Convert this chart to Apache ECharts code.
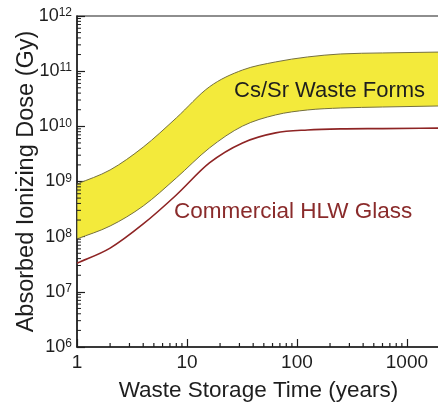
<!DOCTYPE html>
<html><head><meta charset="utf-8">
<script src="https://cdn.jsdelivr.net/npm/echarts@6/dist/echarts.min.js"></script>
<style>html,body{margin:0;padding:0;background:#fff}#c{width:438px;height:402px}</style>
</head><body><div id="c"></div>
<script>
// ---- data ----
const years = [1, 2, 4, 8, 16, 32, 64, 125, 250, 600, 2000];
const csSrUpper = [9.0e8, 1.62e9, 4.2e9, 1.42e10, 5.2e10, 1.05e11, 1.47e11, 1.81e11, 2.05e11, 2.14e11, 2.22e11];
const csSrLower = [9.1e7, 1.56e8, 3.6e8, 1.16e9, 4.05e9, 1.01e10, 1.61e10, 1.98e10, 2.15e10, 2.24e10, 2.34e10];
const hlwGlass = [3.3e7, 6.2e7, 1.7e8, 5.7e8, 2.17e9, 5.0e9, 7.6e9, 8.6e9, 9.0e9, 9.1e9, 9.3e9];
const xTickLabels = ['1', '10', '100', '1000'];
const yTickExponents = ['6', '7', '8', '9', '10', '11', '12'];
const bandLabel = 'Cs/Sr Waste Forms';
const glassLabel = 'Commercial HLW Glass';
const xTitle = 'Waste Storage Time (years)';
const yTitle = 'Absorbed Ionizing Dose (Gy)';

const xMin = 1, xMax = 2000, yMin = 1e6, yMax = 1e12;
const xMinor = [];
[1, 10, 100, 1000].forEach(d => { for (let k = 2; k <= 9; k++) if (k * d < xMax) xMinor.push(k * d); });
const yMinor = [];
[1e6, 1e7, 1e8, 1e9, 1e10, 1e11].forEach(d => { for (let k = 2; k <= 9; k++) yMinor.push(k * d); });

const FONT = 'Liberation Sans, Arial, sans-serif';
const AX = '#1e1e1e';

// monotone cubic (Fritsch-Carlson) segments in screen space
function monoSegs(p) {
  const n = p.length, d = [], m = [];
  for (let i = 0; i < n - 1; i++) d.push((p[i + 1][1] - p[i][1]) / (p[i + 1][0] - p[i][0]));
  m[0] = d[0]; m[n - 1] = d[n - 2];
  for (let i = 1; i < n - 1; i++) m[i] = (d[i - 1] * d[i] <= 0) ? 0 : (d[i - 1] + d[i]) / 2;
  for (let i = 0; i < n - 1; i++) {
    if (d[i] === 0) { m[i] = 0; m[i + 1] = 0; continue; }
    const a = m[i] / d[i], b = m[i + 1] / d[i], s = a * a + b * b;
    if (s > 9) { const t = 3 / Math.sqrt(s); m[i] = t * a * d[i]; m[i + 1] = t * b * d[i]; }
  }
  const segs = [];
  for (let i = 0; i < n - 1; i++) {
    const h = (p[i + 1][0] - p[i][0]) / 3;
    segs.push({ p1: p[i], c1: [p[i][0] + h, p[i][1] + m[i] * h], c2: [p[i + 1][0] - h, p[i + 1][1] - m[i + 1] * h], p2: p[i + 1] });
  }
  return segs;
}
const fwd = segs => segs.map(s => 'C' + s.c1.join(' ') + ' ' + s.c2.join(' ') + ' ' + s.p2.join(' ')).join('');
const bwd = segs => segs.slice().reverse().map(s => 'C' + s.c2.join(' ') + ' ' + s.c1.join(' ') + ' ' + s.p1.join(' ')).join('');

const chart = echarts.init(document.getElementById('c'), null, { renderer: 'canvas' });
chart.setOption({
  animation: false,
  backgroundColor: '#fff',
  grid: { left: 77, top: 16, width: 363, height: 331, containLabel: false, outerBoundsMode: 'none', show: true, borderColor: AX, borderWidth: 1.2, backgroundColor: 'transparent' },
  xAxis: {
    type: 'log', logBase: 10, min: xMin, max: xMax,
    axisLine: { show: true, lineStyle: { color: AX, width: 1.5 } },
    axisTick: { show: true, inside: true, length: 8, lineStyle: { color: AX, width: 1.2 } },
    splitLine: { show: false },
    axisLabel: {
      showMaxLabel: false, margin: 6, color: '#1e1e1e', fontSize: 19, fontFamily: FONT,
      formatter: v => { const e = Math.round(Math.log10(v)); return xTickLabels[e] || ''; }
    },
    name: xTitle, nameLocation: 'middle', nameGap: 32, nameMoveOverlap: false,
    nameTextStyle: { fontSize: 22.5, fontFamily: FONT, color: '#1e1e1e' }
  },
  yAxis: {
    type: 'log', logBase: 10, min: yMin, max: yMax,
    axisLine: { show: true, lineStyle: { color: AX, width: 1.5 } },
    axisTick: { show: true, inside: true, length: 8, lineStyle: { color: AX, width: 1.2 } },
    splitLine: { show: false },
    axisLabel: {
      margin: 5,
      formatter: v => { const e = Math.round(Math.log10(v)); return '{b|10}{s|' + yTickExponents[e - 6] + '}'; },
      rich: {
        b: { fontSize: 18, fontFamily: FONT, color: '#1e1e1e' },
        s: { fontSize: 12, fontFamily: FONT, color: '#1e1e1e', verticalAlign: 'top', padding: [0, 0, 5, 0] }
      }
    },
    name: yTitle, nameLocation: 'middle', nameGap: 38, nameMoveOverlap: false,
    nameTextStyle: { fontSize: 23.5, fontFamily: FONT, color: '#1e1e1e' }
  },
  graphic: [
    { type: 'text', left: 234, top: 80, style: { text: bandLabel, font: '22px ' + FONT, fill: '#1e1e1e' }, z: 10 },
    { type: 'text', left: 174, top: 200, style: { text: glassLabel, font: '22.5px ' + FONT, fill: '#8a2b2b' }, z: 10 }
  ],
  series: [
    {
      type: 'custom', clip: true, z: 2,
      data: [[years[0], csSrLower[0]]],
      renderItem: (params, api) => {
        const up = years.map((x, i) => api.coord([x, csSrUpper[i]]));
        const lo = years.map((x, i) => api.coord([x, csSrLower[i]]));
        const su = monoSegs(up), sl = monoSegs(lo);
        const d = 'M' + up[0].join(' ') + fwd(su) + 'L' + lo[lo.length - 1].join(' ') + bwd(sl) + 'Z';
        return { type: 'path', shape: { pathData: d }, style: { fill: '#f3ea3b', stroke: '#75703f', lineWidth: 1 } };
      }
    },
    {
      type: 'custom', clip: true, z: 3,
      data: [[years[0], hlwGlass[0]]],
      renderItem: (params, api) => {
        const p = years.map((x, i) => api.coord([x, hlwGlass[i]]));
        const d = 'M' + p[0].join(' ') + fwd(monoSegs(p));
        return { type: 'path', shape: { pathData: d }, style: { fill: null, stroke: '#8e2424', lineWidth: 1.6 } };
      }
    },
    {
      type: 'custom', clip: false, z: 4, silent: true,
      data: xMinor.map(v => [v, yMin]),
      renderItem: (params, api) => {
        const p = api.coord([api.value(0), api.value(1)]);
        return { type: 'line', shape: { x1: p[0], y1: p[1], x2: p[0], y2: p[1] - 4 }, style: { stroke: AX, lineWidth: 1.2 } };
      }
    },
    {
      type: 'custom', clip: false, z: 4, silent: true,
      data: yMinor.map(v => [xMin, v]),
      renderItem: (params, api) => {
        const p = api.coord([api.value(0), api.value(1)]);
        return { type: 'line', shape: { x1: p[0], y1: p[1], x2: p[0] + 4, y2: p[1] }, style: { stroke: AX, lineWidth: 1 } };
      }
    }
  ]
});
</script></body></html>
